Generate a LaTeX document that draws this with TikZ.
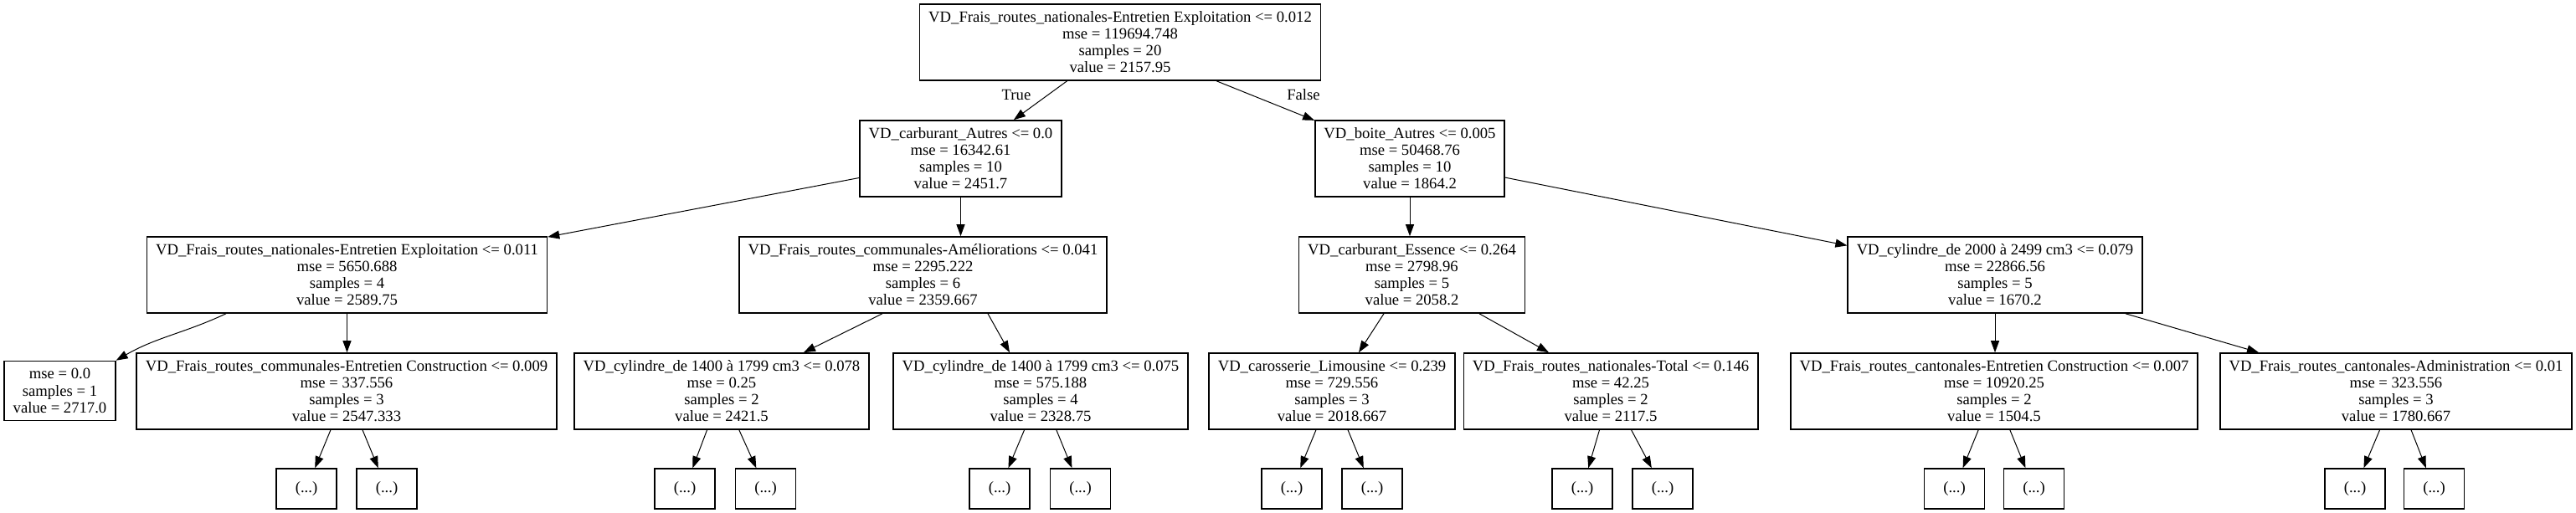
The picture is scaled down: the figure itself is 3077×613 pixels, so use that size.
\documentclass[tikz,border=0pt]{standalone}
\usepackage{fontspec}
\setmainfont{Liberation Serif}
\usetikzlibrary{arrows.meta,calc}
\begin{document}
\fontsize{14}{15.06}\selectfont
\begin{tikzpicture}[x=0.75pt,y=-0.75pt,
  tn/.style={draw, line width=1.2pt, rectangle, align=center,
    font=\fontsize{14}{15.06}\selectfont, inner xsep=7.9pt, inner ysep=0pt,
    minimum height=68.25pt},
  ln/.style={tn, minimum height=53.2pt},
  dn/.style={draw, line width=1.2pt, rectangle, minimum width=54pt, minimum height=36pt,
    inner sep=0pt, font=\fontsize{14}{15.06}\selectfont},
  ed/.style={-{Triangle[length=10.5pt,width=7.5pt]}, line width=0.75pt},
  lab/.style={font=\fontsize{14}{16}\selectfont, inner sep=0pt}
]
\useasboundingbox (0,0) rectangle (3077,613);
\fill[white] (0,0) rectangle (3077,613);

% level 0
\node[tn] (root) at (1338,50.5) {VD\_Frais\_routes\_nationales-Entretien Exploitation <= 0.012\\mse = 119694.748\\samples = 20\\value = 2157.95};
% level 1
\node[tn] (n1a) at (1147.5,189.5) {VD\_carburant\_Autres <= 0.0\\mse = 16342.61\\samples = 10\\value = 2451.7};
\node[tn] (n1b) at (1684,189.5) {VD\_boite\_Autres <= 0.005\\mse = 50468.76\\samples = 10\\value = 1864.2};
% level 2
\node[tn] (n2a) at (414.5,328.5) {VD\_Frais\_routes\_nationales-Entretien Exploitation <= 0.011\\mse = 5650.688\\samples = 4\\value = 2589.75};
\node[tn] (n2b) at (1102.5,328.5) {VD\_Frais\_routes\_communales-Améliorations <= 0.041\\mse = 2295.222\\samples = 6\\value = 2359.667};
\node[tn] (n2c) at (1686.5,328.5) {VD\_carburant\_Essence <= 0.264\\mse = 2798.96\\samples = 5\\value = 2058.2};
\node[tn] (n2d) at (2383,328.5) {VD\_cylindre\_de 2000 à 2499 cm3 <= 0.079\\mse = 22866.56\\samples = 5\\value = 1670.2};
% level 3
\node[ln] (leaf0) at (71.5,467) {mse = 0.0\\samples = 1\\value = 2717.0};
\node[tn] (n3b) at (414,467.5) {VD\_Frais\_routes\_communales-Entretien Construction <= 0.009\\mse = 337.556\\samples = 3\\value = 2547.333};
\node[tn] (n3c) at (862,467.5) {VD\_cylindre\_de 1400 à 1799 cm3 <= 0.078\\mse = 0.25\\samples = 2\\value = 2421.5};
\node[tn] (n3d) at (1243,467.5) {VD\_cylindre\_de 1400 à 1799 cm3 <= 0.075\\mse = 575.188\\samples = 4\\value = 2328.75};
\node[tn] (n3e) at (1591,467.5) {VD\_carosserie\_Limousine <= 0.239\\mse = 729.556\\samples = 3\\value = 2018.667};
\node[tn] (n3f) at (1924,467.5) {VD\_Frais\_routes\_nationales-Total <= 0.146\\mse = 42.25\\samples = 2\\value = 2117.5};
\node[tn] (n3g) at (2382,467.5) {VD\_Frais\_routes\_cantonales-Entretien Construction <= 0.007\\mse = 10920.25\\samples = 2\\value = 1504.5};
\node[tn] (n3h) at (2862,467.5) {VD\_Frais\_routes\_cantonales-Administration <= 0.01\\mse = 323.556\\samples = 3\\value = 1780.667};
% level 4
\node[dn] (d1) at (366,584) {(...)};
\node[dn] (d2) at (462,584) {(...)};
\node[dn] (d3) at (818,584) {(...)};
\node[dn] (d4) at (914.5,584) {(...)};
\node[dn] (d5) at (1194,584) {(...)};
\node[dn] (d6) at (1290.5,584) {(...)};
\node[dn] (d7) at (1543,584) {(...)};
\node[dn] (d8) at (1639,584) {(...)};
\node[dn] (d9) at (1890,584) {(...)};
\node[dn] (d10) at (1986,584) {(...)};
\node[dn] (d11) at (2334.5,584) {(...)};
\node[dn] (d12) at (2429.5,584) {(...)};
\node[dn] (d13) at (2813,584) {(...)};
\node[dn] (d14) at (2907.5,584) {(...)};

% edges
\draw[ed] (root) -- (n1a);
\draw[ed] (root) -- (n1b);
\node[lab] (lt) at (1214,113) {True};
\node[lab] (lf) at (1557,113) {False};

\draw[ed] (n1a) -- (n2a);
\draw[ed] (n1a.south) -- (n1a.south |- n2b.north);
\draw[ed] (n1b.south) -- (n1b.south |- n2c.north);
\draw[ed] (n1b) -- (n2d);

\draw[ed] ($(n2a.south)+(-144.5,0)$) to[out=-155,in=30] (leaf0.north east);
\draw[ed] (n2a.south) -- (n2a.south |- n3b.north);
\draw[ed] ($(n2b.south)+(-48.5,0)$) -- ($(n3c.north)+(98,0)$);
\draw[ed] ($(n2b.south)+(77.5,0)$) -- ($(n3d.north)+(-37,0)$);
\draw[ed] ($(n2c.south)+(-33.5,0)$) -- ($(n3e.north)+(32,0)$);
\draw[ed] ($(n2c.south)+(80.5,0)$) -- ($(n3f.north)+(-74,0)$);
\draw[ed] (n2d.south) -- (n2d.south |- n3g.north);
\draw[ed] ($(n2d.south)+(156,0)$) -- ($(n3h.north)+(-164,0)$);

\draw[ed] (n3b) -- (d1);
\draw[ed] (n3b) -- (d2);
\draw[ed] (n3c) -- (d3);
\draw[ed] (n3c) -- (d4);
\draw[ed] (n3d) -- (d5);
\draw[ed] (n3d) -- (d6);
\draw[ed] (n3e) -- (d7);
\draw[ed] (n3e) -- (d8);
\draw[ed] (n3f) -- (d9);
\draw[ed] (n3f) -- (d10);
\draw[ed] (n3g) -- (d11);
\draw[ed] (n3g) -- (d12);
\draw[ed] (n3h) -- (d13);
\draw[ed] (n3h) -- (d14);
\end{tikzpicture}
\end{document}
